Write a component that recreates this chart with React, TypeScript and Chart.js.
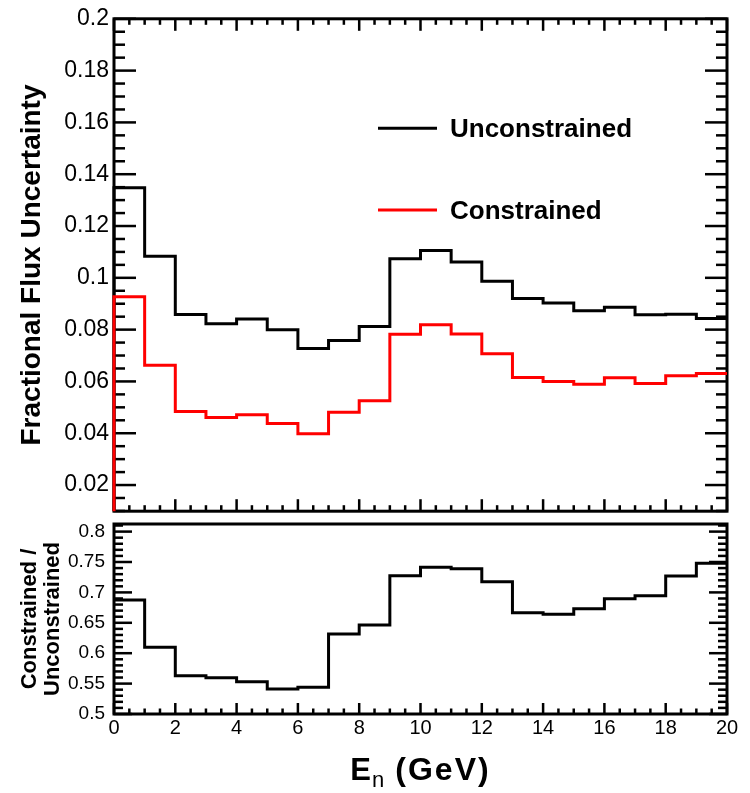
import React, { useEffect, useRef } from 'react';
import { Chart, registerables } from 'chart.js';

Chart.register(...registerables);

// ---------------- data ----------------
const BIN_EDGES = [0, 1, 2, 3, 4, 5, 6, 7, 8, 9, 10, 11, 12, 13, 14, 15, 16, 17, 18, 19, 20];
const UNCONSTRAINED = [
  0.1348, 0.1083, 0.0858, 0.0823, 0.0841, 0.08, 0.0727, 0.0758, 0.0812, 0.1074,
  0.1105, 0.1061, 0.0987, 0.092, 0.0903, 0.0873, 0.0886, 0.0857, 0.0859, 0.0843,
];
const CONSTRAINED = [
  0.0927, 0.0662, 0.0484, 0.0461, 0.0471, 0.0438, 0.0398, 0.0481, 0.0525, 0.0782,
  0.0819, 0.0783, 0.0707, 0.0615, 0.06, 0.0589, 0.0614, 0.0592, 0.0622, 0.0631,
];
const RATIO = [
  0.6875, 0.6097, 0.563, 0.5597, 0.5531, 0.5411, 0.5439, 0.6316, 0.6464, 0.7275,
  0.7413, 0.739, 0.7176, 0.6666, 0.664, 0.6732, 0.6896, 0.6946, 0.727, 0.7479,
];
const X_TICKS = [0, 2, 4, 6, 8, 10, 12, 14, 16, 18, 20];
const TOP_Y_TICKS = [0.02, 0.04, 0.06, 0.08, 0.1, 0.12, 0.14, 0.16, 0.18, 0.2];
const RATIO_Y_TICKS = [0.5, 0.55, 0.6, 0.65, 0.7, 0.75, 0.8];
const SERIES_LABELS = ['Unconstrained', 'Constrained'];
const TOP_Y_TITLE = 'Fractional Flux Uncertainty';
const RATIO_Y_TITLE = ['Constrained /', 'Unconstrained'];
const X_TITLE_MAIN = 'E';
const X_TITLE_SUB = 'n';
const X_TITLE_UNIT = '(GeV)';

// ---------------- style / layout ----------------
const FONT = '"Liberation Sans", Arial, Helvetica, sans-serif';
const BLACK = '#000000';
const RED = '#ff0000';

Chart.defaults.font.family = FONT;
Chart.defaults.color = BLACK;

function histPoints(values: number[], baseline?: number) {
  const pts: { x: number; y: number }[] = [];
  if (baseline !== undefined) pts.push({ x: BIN_EDGES[0], y: baseline });
  values.forEach((v, i) => pts.push({ x: BIN_EDGES[i], y: v }));
  pts.push({ x: BIN_EDGES[values.length], y: values[values.length - 1] });
  return pts;
}

function fmt(v: number) {
  return String(Number(Number(v).toFixed(4)));
}

type FrameCfg = {
  xMajor: number;
  xMinor: number;
  yMajor: number;
  yMinor: number;
  xMajorLen: number;
  xMinorLen: number;
  yMajorLen: number;
  yMinorLen: number;
  topTicks: boolean;
};

function stepValues(min: number, max: number, step: number) {
  const out: number[] = [];
  const k0 = Math.ceil(min / step - 1e-9);
  const k1 = Math.floor(max / step + 1e-9);
  for (let k = k0; k <= k1; k++) out.push(k * step);
  return out;
}

function isMultiple(v: number, step: number) {
  const r = v / step;
  return Math.abs(r - Math.round(r)) < 1e-6;
}

function framePlugin(id: string, cfg: FrameCfg) {
  return {
    id,
    beforeDatasetsDraw(chart: any) {
      const { ctx, chartArea: a, scales } = chart;
      const xs = scales.x;
      const ys = scales.y;
      ctx.save();
      ctx.strokeStyle = BLACK;
      ctx.lineCap = 'butt';
      ctx.lineWidth = 2.5;
      const line = (x1: number, y1: number, x2: number, y2: number) => {
        ctx.beginPath();
        ctx.moveTo(x1, y1);
        ctx.lineTo(x2, y2);
        ctx.stroke();
      };
      for (const v of stepValues(ys.min, ys.max, cfg.yMinor)) {
        const p = ys.getPixelForValue(v);
        const len = isMultiple(v, cfg.yMajor) ? cfg.yMajorLen : cfg.yMinorLen;
        line(a.left, p, a.left + len, p);
        line(a.right, p, a.right - len, p);
      }
      for (const v of stepValues(xs.min, xs.max, cfg.xMinor)) {
        const p = xs.getPixelForValue(v);
        const len = isMultiple(v, cfg.xMajor) ? cfg.xMajorLen : cfg.xMinorLen;
        line(p, a.bottom, p, a.bottom - len);
        if (cfg.topTicks) line(p, a.top, p, a.top + len);
      }
      ctx.lineWidth = 3;
      ctx.strokeRect(a.left, a.top, a.right - a.left, a.bottom - a.top);
      ctx.restore();
    },
  };
}

const legendPlugin = {
  id: 'rootLegend',
  afterDraw(chart: any) {
    const { ctx } = chart;
    const rowsY = [128.3, 210];
    ctx.save();
    chart.data.datasets.forEach((ds: any, i: number) => {
      const y = rowsY[i];
      ctx.strokeStyle = ds.borderColor;
      ctx.lineWidth = 3;
      ctx.beginPath();
      ctx.moveTo(378, y);
      ctx.lineTo(437, y);
      ctx.stroke();
      ctx.fillStyle = BLACK;
      ctx.font = `bold 26px ${FONT}`;
      ctx.textAlign = 'left';
      ctx.textBaseline = 'middle';
      ctx.fillText(ds.label, 450, y + 1.5);
    });
    ctx.restore();
  },
};

const xTitlePlugin = {
  id: 'xTitle',
  afterDraw(chart: any) {
    const { ctx, chartArea: a } = chart;
    ctx.save();
    ctx.fillStyle = BLACK;
    ctx.textAlign = 'left';
    ctx.textBaseline = 'alphabetic';
    const baseline = a.bottom + 66;
    ctx.font = `bold 31px ${FONT}`;
    const wE = ctx.measureText(X_TITLE_MAIN).width;
    ctx.font = `22px ${FONT}`;
    const wS = ctx.measureText(X_TITLE_SUB).width;
    ctx.font = `bold 32px ${FONT}`;
    (ctx as any).letterSpacing = '2px';
    const wU = ctx.measureText(X_TITLE_UNIT).width;
    (ctx as any).letterSpacing = '0px';
    const gap = 11;
    const total = wE + 1 + wS + gap + wU;
    let x = (a.left + a.right) / 2 - total / 2;
    ctx.font = `bold 31px ${FONT}`;
    ctx.fillText(X_TITLE_MAIN, x, baseline);
    x += wE + 1;
    ctx.font = `22px ${FONT}`;
    ctx.fillText(X_TITLE_SUB, x, baseline + 7);
    x += wS + gap;
    ctx.font = `bold 32px ${FONT}`;
    (ctx as any).letterSpacing = '2px';
    ctx.fillText(X_TITLE_UNIT, x, baseline);
    ctx.restore();
  },
};

const lineBase = {
  borderWidth: 3,
  stepped: 'before' as const,
  pointRadius: 0,
  fill: false,
  borderJoinStyle: 'miter' as const,
  borderCapStyle: 'butt' as const,
  clip: { left: 2, right: 0, top: 0, bottom: 0 },
};

export default function App() {
  const topRef = useRef<HTMLCanvasElement>(null);
  const botRef = useRef<HTMLCanvasElement>(null);

  useEffect(() => {
    const top = new Chart(topRef.current as HTMLCanvasElement, {
      type: 'line',
      data: {
        datasets: [
          {
            ...lineBase,
            label: SERIES_LABELS[0],
            data: histPoints(UNCONSTRAINED, 0),
            borderColor: BLACK,
            order: 2,
          } as any,
          {
            ...lineBase,
            label: SERIES_LABELS[1],
            data: histPoints(CONSTRAINED, 0),
            borderColor: RED,
            order: 1,
          } as any,
        ],
      },
      options: {
        responsive: false,
        animation: false,
        events: [],
        layout: { padding: { left: 0, top: 16, right: 23, bottom: 6 } },
        plugins: { legend: { display: false }, tooltip: { enabled: false } },
        scales: {
          x: { type: 'linear', min: 0, max: 20, display: false },
          y: {
            type: 'linear',
            min: 0.0099,
            max: 0.2,
            afterFit: (s: any) => {
              s.width = 114;
            },
            afterBuildTicks: (s: any) => {
              s.ticks = TOP_Y_TICKS.map((v) => ({ value: v }));
            },
            grid: { display: false, drawTicks: false },
            border: { display: false },
            ticks: {
              padding: 5,
              color: BLACK,
              font: { size: 23 },
              callback: (v: any) => fmt(v),
            },
            title: {
              display: true,
              text: TOP_Y_TITLE,
              color: BLACK,
              font: { size: 28, weight: 'bold' },
              padding: { top: 15, bottom: 0 },
            },
          },
        },
      } as any,
      plugins: [
        framePlugin('topFrame', {
          xMajor: 2,
          xMinor: 0.5,
          yMajor: 0.02,
          yMinor: 0.005,
          xMajorLen: 12,
          xMinorLen: 6,
          yMajorLen: 22,
          yMinorLen: 11,
          topTicks: true,
        }),
        legendPlugin,
      ],
    });

    const bot = new Chart(botRef.current as HTMLCanvasElement, {
      type: 'line',
      data: {
        datasets: [
          {
            ...lineBase,
            label: RATIO_Y_TITLE.join(' '),
            data: histPoints(RATIO),
            borderColor: BLACK,
          } as any,
        ],
      },
      options: {
        responsive: false,
        animation: false,
        events: [],
        layout: { padding: { left: 0, top: 24, right: 23, bottom: 0 } },
        plugins: { legend: { display: false }, tooltip: { enabled: false } },
        scales: {
          x: {
            type: 'linear',
            min: 0,
            max: 20,
            afterFit: (s: any) => {
              s.height = 79;
            },
            afterBuildTicks: (s: any) => {
              s.ticks = X_TICKS.map((v) => ({ value: v }));
            },
            grid: { display: false, drawTicks: false },
            border: { display: false },
            ticks: {
              padding: 2,
              color: BLACK,
              maxRotation: 0,
              autoSkip: false,
              font: { size: 20 },
              callback: (v: any) => fmt(v),
            },
          },
          y: {
            type: 'linear',
            min: 0.5,
            max: 0.8125,
            afterFit: (s: any) => {
              s.width = 114;
            },
            afterBuildTicks: (s: any) => {
              s.ticks = RATIO_Y_TICKS.map((v) => ({ value: v }));
            },
            grid: { display: false, drawTicks: false },
            border: { display: false },
            ticks: {
              padding: 9,
              color: BLACK,
              font: { size: 19 },
              callback: (v: any) => fmt(v),
            },
            title: {
              display: true,
              text: RATIO_Y_TITLE,
              color: BLACK,
              font: { size: 22, weight: 'bold', lineHeight: 1.06 },
              padding: { top: 18, bottom: 0 },
            },
          },
        },
      } as any,
      plugins: [
        framePlugin('botFrame', {
          xMajor: 2,
          xMinor: 0.5,
          yMajor: 0.05,
          yMinor: 0.01,
          xMajorLen: 11,
          xMinorLen: 5.5,
          yMajorLen: 18,
          yMinorLen: 9,
          topTicks: false,
        }),
        xTitlePlugin,
      ],
    });

    return () => {
      top.destroy();
      bot.destroy();
    };
  }, []);

  return (
    <div style={{ position: 'absolute', left: 0, top: 0, width: 750, height: 793, background: '#ffffff' }}>
      <canvas ref={topRef} width={750} height={530} style={{ position: 'absolute', left: 0, top: 0 }} />
      <canvas ref={botRef} width={750} height={293} style={{ position: 'absolute', left: 0, top: 500 }} />
    </div>
  );
}
